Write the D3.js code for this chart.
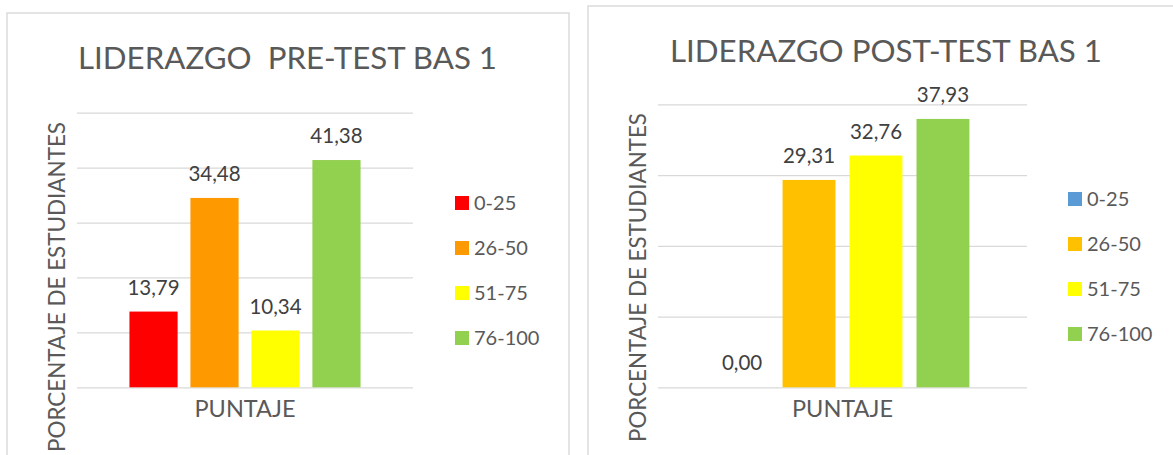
<!DOCTYPE html>
<html>
<head>
<meta charset="utf-8">
<script src="https://cdn.jsdelivr.net/npm/d3@7"></script>
<style>
    body { margin: 0; background: #fff; }
    text { font-family: Lato, "Open Sans", sans-serif; }
</style>
</head>
<body>
<div id="chart"></div>
<script>
// data
var categories = ["0-25", "26-50", "51-75", "76-100"];
var preValues = [13.79, 34.48, 10.34, 41.38];
var postValues = [0, 29.31, 32.76, 37.93];
var preTicks = [0, 10, 20, 30, 40, 50];
var postTicks = [0, 10, 20, 30, 40];
var preColors = ["#FF0000", "#FF9900", "#FFFF00", "#92D050"];
var postColors = ["#5B9BD5", "#FFC000", "#FFFF00", "#92D050"];

var fmt = function (v) {
    return v.toFixed(2).replace(".", ",");
};

var svg = d3.select("#chart").append("svg")
    .attr("width", 1173)
    .attr("height", 455);

function drawChart(params) {
    var o = params;

    // outer chart frame
    svg.append("rect")
        .attr("x", o.frame.x)
        .attr("y", o.frame.y)
        .attr("width", o.frame.w)
        .attr("height", o.frame.h)
        .attr("fill", "#fff")
        .attr("stroke", "#d9d9d9")
        .attr("stroke-width", 1.4);

    var g = svg.append("g");

    var y = d3.scaleLinear()
        .domain([0, d3.max(o.ticks)])
        .range([o.plot.bottom, o.plot.top]);

    var x = d3.scaleBand()
        .domain(categories)
        .range([o.plot.left, o.plot.right])
        .paddingInner(0.21)
        .paddingOuter(0.86);

    // gridlines
    var grid = g.append("g")
        .attr("transform", "translate(" + o.plot.left + ",0)")
        .call(d3.axisLeft(y)
            .tickValues(o.ticks)
            .tickSize(-(o.plot.right - o.plot.left))
            .tickFormat(""));
    grid.select(".domain").remove();
    grid.selectAll("line")
        .attr("stroke", "#d9d9d9")
        .attr("stroke-width", 1.3);

    // bars
    g.selectAll(".bar")
        .data(o.values)
        .enter()
        .append("rect")
        .classed("bar", true)
        .attr("x", function (d, i) {
            return x(categories[i]);
        })
        .attr("y", function (d) {
            return y(d);
        })
        .attr("width", x.bandwidth())
        .attr("height", function (d) {
            return y(0) - y(d);
        })
        .attr("fill", function (d, i) {
            return o.colors[i];
        });

    // data labels
    g.selectAll(".label")
        .data(o.values)
        .enter()
        .append("text")
        .classed("label", true)
        .attr("x", function (d, i) {
            return x(categories[i]) + x.bandwidth() / 2;
        })
        .attr("y", function (d) {
            return y(d) - 17;
        })
        .attr("text-anchor", "middle")
        .attr("font-size", "20.5px")
        .attr("fill", "#404040")
        .text(fmt);

    // title
    g.append("text")
        .attr("x", o.title.x)
        .attr("y", o.title.y)
        .attr("font-size", "30px")
        .attr("fill", "#595959")
        .attr("textLength", o.title.len)
        .attr("lengthAdjust", "spacingAndGlyphs")
        .style("white-space", "pre")
        .text(o.title.text);

    // x axis title
    g.append("text")
        .attr("x", (o.plot.left + o.plot.right) / 2)
        .attr("y", 417)
        .attr("text-anchor", "middle")
        .attr("font-size", "23.5px")
        .attr("fill", "#595959")
        .text("PUNTAJE");

    // y axis title
    g.append("text")
        .attr("transform", "translate(" + o.yTitle.x + "," + o.yTitle.y + ") rotate(-90)")
        .attr("font-size", "23.5px")
        .attr("fill", "#595959")
        .attr("textLength", o.yTitle.len)
        .attr("lengthAdjust", "spacingAndGlyphs")
        .text("PORCENTAJE DE ESTUDIANTES");

    // legend
    var legend = g.append("g")
        .attr("transform", "translate(" + o.legend.x + "," + o.legend.y + ")");
    var item = legend.selectAll(".item")
        .data(categories)
        .enter()
        .append("g")
        .classed("item", true)
        .attr("transform", function (d, i) {
            return "translate(0," + (i * 45) + ")";
        });
    item.append("rect")
        .attr("width", 14)
        .attr("height", 14)
        .attr("fill", function (d, i) {
            return o.colors[i];
        });
    item.append("text")
        .attr("x", 19)
        .attr("y", 14)
        .attr("font-size", "20px")
        .attr("fill", "#595959")
        .text(function (d) {
            return d;
        });
}

drawChart({
    frame: {x: 7, y: 13, w: 562, h: 470},
    plot: {left: 77, right: 413, top: 112.7, bottom: 387.3},
    ticks: preTicks,
    values: preValues,
    colors: preColors,
    title: {text: "LIDERAZGO  PRE-TEST BAS 1", x: 78, y: 68.5, len: 419},
    yTitle: {x: 65, y: 452, len: 330},
    legend: {x: 455, y: 196}
});

drawChart({
    frame: {x: 588, y: 6, w: 620, h: 470},
    plot: {left: 658, right: 1027, top: 104.3, bottom: 387.3},
    ticks: postTicks,
    values: postValues,
    colors: postColors,
    title: {text: "LIDERAZGO POST-TEST BAS 1", x: 670, y: 61.5, len: 432},
    yTitle: {x: 646, y: 442, len: 329},
    legend: {x: 1068, y: 192}
});
</script>
</body>
</html>
